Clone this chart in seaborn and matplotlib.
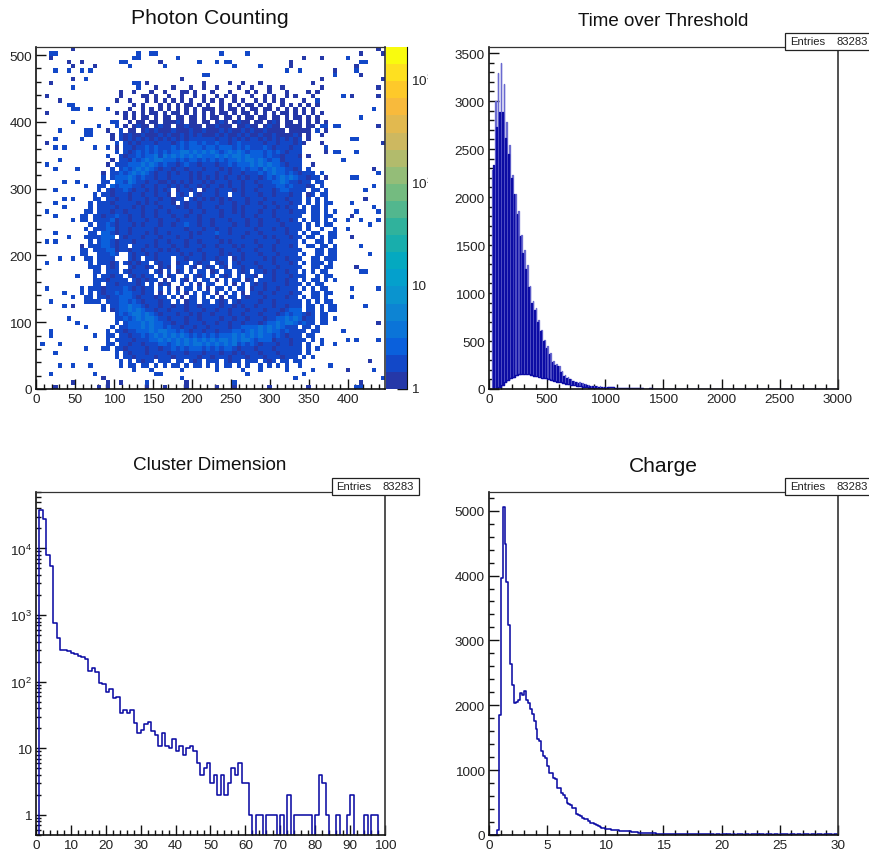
import numpy as np
import matplotlib
matplotlib.use('Agg')
import matplotlib.pyplot as plt
import seaborn as sns
from matplotlib.colors import ListedColormap, LogNorm
from matplotlib.patches import Rectangle
from matplotlib.ticker import FixedLocator, LogLocator, MultipleLocator, NullFormatter
from matplotlib.transforms import Bbox

FIG_W, FIG_H = 870, 853

# hit map, one character per 5.6 x 6.4 pixel cell, top row first ('.' = empty)
photon_rows = [
    "........1. .......... .......... .......... .......... .......... .......... ........1.",
    "...22..... .......... ...2..22.. .......... ..2.....2. .......... .......... ....1....1",
    "...1...... .......... ..22...... ..2....... .......... .......... .1...1.... .2........",
    ".......1.. 1........2 2.......1. .......2.. .2.22..... ........1. .......... ....22....",
    "........1. ...1...... .2.......2 .......... .....2.... .2......1. .......... ...1......",
    "....2..2.. 2.2....... .......... .......... .......... .......2.. 2.......1. ...2......",
    ".......... .......... .......... ........22 .......... .......... ........2. ....1.....",
    "........1. .2........ .......... ...1...... .......... .......... .....1.... .........1",
    "...1...... .......... ..22.1.... ........1. ....1..1.. .1........ ...1...... ..........",
    "........2. .......... ...2...1.. .1...1..1. .1....1..1 ...1..1... .....1.... ........1.",
    ".......... .........1 ..1...1..1 ...11.1... 1...1...1. 1..1...1.. ..1.1..... ..........",
    "..1....... .........1 ....11.1.. 1..1..1.1. .1.1.1...1 ..1.1..1.1 ...1...... 2.1.....1.",
    ".....1.... ........1. .1...1.1.1 .1.1.1..1. 1.1..1.1.. 1.1.1.1... .1..2..... ..........",
    ".......22. .......... ..1.1...1. 1.1.11.1.1 ..1.1.1.11 .1.1..1.1. 1.1.1..... ..........",
    "........22 ..2...2... .1..1.1.1. 1.1.1.1.11 1.1.11.1.1 1.11.1.1.1 .1.1...... .......2..",
    "..1....... ........1. 1.1.1.11.1 .11.1.1.1. 1.11.1.11. 1.1.1.11.1 .1.1.1.... ..........",
    ".......... .......... 1.1.11.1.1 1.11.11.1. 11.11.1.11 .11.11.1.1 1.1.1..... ....2.....",
    "........2. .......22. .1.11.11.1 1121.11.11 .121.1211. 11.121.11. 1.1.1.1... ..........",
    ".......... ....2...2. 1.1211.121 1.112111.1 12111.1121 1.1211.111 1.11.22.22 ........1.",
    ".....2.... .22...1..2 .11.121211 1211121121 1121211212 1121111.11 111.2.1... ..........",
    ".......... .22....1.2 1211211121 2112121211 1212112121 1211211112 1.1..1.... ..........",
    "....2..... 2......1.2 1212121212 1212122222 2122121212 2121212121 2.1....... ..22......",
    "..1....... ........2. 2121222122 2123233232 2322123222 2212212221 21...1.... .........1",
    "....2.2... ...2..2.1. 2212232322 2323233323 3233323232 2232122212 2.....2... ..........",
    ".......... ........2. 2123232323 2334434343 4323434323 3323232122 2.....1.22 ...2......",
    ".......... ......2..2 1223233424 3434343433 3434344343 3323221222 1.1....... ..........",
    ".....2.... .......1.2 2132343443 3323233232 3232334344 3432331222 2......... 2.........",
    "..2....... ......1.22 2333434323 2212322122 2122323334 3434332122 2..1...... ..........",
    "....2....2 .......2.2 3234343212 2122122212 2212122323 3243433221 2.2....... .......1..",
    ".......... .....1.223 2343432122 1212212122 2122122122 2323433232 1222.2.... ........2.",
    ".......... .....2.233 3432322122 1222212121 2121221212 2123234343 22122.1... ..22......",
    "......2..2 .....22.33 2432212211 2121212212 1222122122 1222334322 122.22.... ..........",
    ".......... .2..22.323 3322122122 1212122121 2212122122 2122233232 2212.2.... .......2..",
    "....2..... ....2.2122 3212212121 2.12212.12 2122212122 1222123322 22.22.2... .....2....",
    ".......... ...2.22122 2122122122 1.212.2122 2122.22122 2122122212 2.12.22... ..........",
    "......2.2. ...22.2212 2122212212 2122.21212 1212122212 2212222122 2.2.2.2... .....1....",
    "....2..... ..2.222122 2221212122 21.2122122 2212212212 2122122212 2.2.2.22.. ..2.......",
    "......2... ..2.222212 2212122212 2212122122 2122212122 2212212122 .2.22.2... .......2..",
    "..2....... .22.222122 1222122122 1222212212 2212212122 2122122212 22.22.2.2. ...2....2.",
    "....2..... 22.2212232 2122122122 2122122122 2212222122 1222122222 2..22.22.. ..1.......",
    "........2. 22.2222312 2122212212 2212222122 1222122212 2122212212 .2.22.2.2. .2..2...2.",
    ".......... ..2.223212 2212122212 2122322122 1222212212 2122221222 2.2.2.22.. ......2...",
    ".......... .2.2223312 2122222122 2222122212 2122122222 1222122122 2.2..2..2. .2........",
    "....2..... ..22.33212 2122212122 1222212122 2322122212 2122222122 .2.22..22. ..........",
    ".......2.. .2222333.2 1222122212 2212212222 2122222122 2212122212 2.22.2.22. ..1.......",
    "..2.2..... ..2.233212 2212222122 1222122122 2212122222 1222212222 .2..22.2.. ..........",
    ".......... 1.22233212 2.22212122 2122122212 2122212122 2122122212 ..22.22.2. ....2.....",
    ".......... 22.2223312 2122122212 1212222122 2212221222 1222122222 2...22.22. ..........",
    ".......... 22..22232. .212212122 2221212212 2212122122 2122212222 .2..22.22. ......2...",
    ".....2..2. .22.2222.. .212.22122 2.22122212 2122.12122 2212122122 2..22.222. ..........",
    "..2....... ..2.22212. 212122.212 2.122.2122 .212.21222 1222122212 .2.222.2.. ..........",
    ".......... ..222.212. .212212.12 1.22.21.21 2.21.22122 2122212222 2..22.22.. ...1......",
    ".......... ...22.222. 212222.21. 2.12.2.22. 12.22.212. 2212122122 .2.2.22... ....22....",
    ".........2 ...2.22122 .212122.2. 12..2.212. 2.212.2.22 1.22122212 22..2.22.. ..........",
    ".......... ...2221222 2.212122.1 .2.21.2.22 .1.2.22.12 .222122122 .2.22.2.2. ..........",
    ".......... ...22.2212 22212.2.12 1..2.2.1.2 2..2.1.2.2 1212222122 2.2.22.... ..........",
    "..2....... 2.22212222 3212122.2. 2.1.22.2.1 .22.2.22.1 2212212222 .2.2.22... ..2.....2.",
    "......2... 2.2.212232 3322122.1. 2.2.1.2.22 .1.2.2.1.2 2122122212 2..22.22.. ..........",
    "........2. .22.221223 3321222122 .2.1.22.2. 2.1.22.212 2212222122 .2.22.2... ..2.......",
    "...2...... .2222.2223 3232122212 2.2.122.22 .212.21222 2122122222 2.2.2.22.. ..........",
    "......2.1. .....2.223 3433212212 2122122122 2212212122 1222122122 2.22.2.22. .....2....",
    ".......... .....2.123 3434322122 1222122212 2122122212 2212221233 3.22.2.22. ..........",
    ".......... ........23 2344343212 2212212122 1222122122 2122212323 3212.22... ..........",
    ".......2.. ........22 3234344322 1222122122 2212212212 2212233434 3122.22.2. ..........",
    ".........2 ........2. 2333434332 2122122212 2122122122 2123343443 2322.22... ........1.",
    "..........  .2.....2. 2233343433 2322122122 1222212233 3343434322 2.22.2.... ..........",
    "...2...... ......2.22 1223334344 3323212212 2122233234 3434332322 22.22..... 2.........",
    "...2...... ...2..22.2 2122323434 3434323232 3233343434 3433232122 2.22...... ..........",
    ".......... ......2.22 2212223343 4343434343 4344343443 2333122212 22.2.2.... .2.2....2.",
    ".2...2.... ......22.2 2122122233 2343434434 3434342323 2122212212 2.2..2..2. ..........",
    ".......... .2...22.22 1222212212 2323233323 2323321222 1222122222 2.2.2..... ..........",
    "....2..... ........2. 2122212222 1222122212 2212212122 2122212222 2.2....... ..........",
    ".......... ........2. 2212222122 2122222122 1222122212 2212221222 .2.2...... ..........",
    ".......... .........2 .2.2122.22 2.22.212.2 22.2122.22 2.212.22.2 2......... ......1...",
    ".....2..2. ..2......2 .22.22.2.2 .22.2.22.2 .2.22.2.2. .2.2.2.2.. 2......2.. ..........",
    ".......... .......... ..2...2... ...2...... .2.....2.. .2.....2.. ...2...... .1.....2..",
    "...2...... ...2...... .......22. .......... ........2. .......... .2........ ..........",
    ".......... .....1.... .......... ...2...... .......... .........2 .......... .........2",
    "........1. ......1..1 .....2.... ....1..... .....2.... .......... .......... ....1.....",
    "....1..... ....1.1... .....1...1 ....1..... .1...1.... ...1...... ..1....... ...22.....",
]
photon_counts = {'.': 0, '1': 1, '2': 1.8, '3': 2.6, '4': 3.6}
photon_palette = ['#2538a8', '#1248c8', '#0a60dc', '#0b74d8', '#0d84d3', '#0a94cf',
                  '#04a0cc', '#04a9c0', '#18aeac', '#30b29c', '#52b78e', '#74bb80',
                  '#94bd78', '#b2bb6c', '#cdb860', '#e2b94f', '#f8ba3c', '#fec92a',
                  '#fee020', '#f9fb0e']

# time over threshold: the counts come in a comb, two spikes per 25 units
tot_tail = [18, 16, 15, 14, 12, 10, 10, 8, 8, 7, 7, 6, 5, 5, 6, 4, 4, 5, 3, 4, 3, 3, 4, 2, 3, 3, 2,
            2, 3, 2, 2, 1, 2, 2, 1, 2, 1, 1, 2, 1, 1, 2, 1, 1, 1, 2, 1, 1, 1, 1, 2, 1, 0, 1, 1, 1,
            0, 1, 1, 0, 1, 1, 1, 0, 1, 0, 1, 1, 0, 1, 0, 1, 0, 1, 1, 0, 1, 0, 1]
tot_high = [2277, 3000, 3295, 3400, 3180, 2780, 2540, 2225, 2035, 1856,
            1606, 1453, 1296, 1077, 921, 841, 720, 615, 514, 445,
            375, 295, 260, 243, 190, 146, 122, 104, 87, 70,
            70, 62, 50, 42, 35, 30, 30, 28, 25, 20] + tot_tail
tot_mid = [2330, 2730, 2885, 2890, 2610, 2450, 2200, 2030, 1820, 1590,
           1420, 1250, 1060, 900, 820, 700, 600, 500, 430, 360,
           285, 255, 235, 180, 140, 118, 100, 84, 68, 66,
           58, 48, 40, 33, 30, 28, 26, 24, 20, 17] + tot_tail
tot_gap = [0, 0, 20, 40, 70, 90, 110, 125, 145, 155,
           158, 160, 155, 150, 140, 132, 125, 118, 110, 104,
           95, 85, 76, 70, 62, 55, 48, 44, 38, 32,
           28, 22, 18, 12, 10, 8, 6, 5, 4, 3] + tot_tail

# cluster dimension, 1 wide bins
cluster_counts = [0, 37300, 27900, 8030, 5540, 753, 454, 299, 302, 292,
                  268, 260, 245, 233, 222, 147, 163, 138, 95, 91,
                  71, 77, 56, 59, 34, 38, 34, 38, 24, 17,
                  19, 23, 25, 18, 16, 11, 17, 11, 10, 14,
                  9, 11, 8, 10, 11, 9, 6, 4, 5, 6,
                  3, 4, 2, 4, 2, 3, 5, 4, 6, 3,
                  3, 1, 0, 1, 1, 0, 1, 1, 1, 0,
                  1, 0, 2, 0, 1, 1, 1, 1, 1, 0,
                  1, 4, 3, 1, 0, 0, 1, 0, 0, 1,
                  2, 0, 0, 0, 1, 0, 1, 1, 0, 0]

# charge, 1/6 wide bins
charge_counts = [0, 0, 0, 0, 77, 1850, 3960, 5050, 4480, 3900,
                 3230, 2630, 2320, 2035, 2055, 2080, 2190, 2160, 2225, 2080,
                 2040, 1950, 1870, 1750, 1640, 1480, 1455, 1300, 1220, 1180,
                 1065, 960, 960, 885, 860, 730, 720, 655, 620, 575,
                 500, 484, 463, 412, 410, 320, 310, 293, 263, 252,
                 240, 210, 190, 185, 170, 155, 140, 128, 113, 108,
                 98, 88, 85, 82, 77, 72, 72, 62, 66, 68,
                 66, 60, 55, 50, 45, 42, 40, 38, 36, 34,
                 32, 30, 28, 26, 25, 24, 22, 21, 20, 20,
                 18, 17, 16, 16, 15, 15, 14, 14, 13, 13,
                 12, 12, 12, 11, 11, 10, 10, 10, 12, 9,
                 9, 10, 8, 9, 8, 11, 7, 8, 9, 7,
                 8, 10, 7, 8, 9, 7, 8, 7, 9, 8,
                 10, 7, 9, 8, 7, 9, 8, 11, 8, 7,
                 9, 8, 7, 9, 10, 8, 7, 8, 9, 7,
                 8, 9, 8, 10, 7, 8, 9, 8, 7, 9,
                 8, 7, 10, 8, 9, 7, 8, 9, 7, 8,
                 9, 8, 7, 9, 8, 10, 8, 7, 9, 8]

entries_label = "Entries"
entries_value = "83283"
log_labels = ['1', '10', '$\\mathdefault{10^{2}}$', '$\\mathdefault{10^{3}}$', '$\\mathdefault{10^{4}}$']

LINE = '#0c0ca4'
LINE_LIGHT = '#6a6ad0'

sns.set_style('white')
plt.rcParams['font.family'] = ['Liberation Sans', 'DejaVu Sans']
plt.rcParams['mathtext.default'] = 'regular'

fig = plt.figure(figsize=(FIG_W / 100, FIG_H / 100), dpi=100)


def add_axes(x0, y0, x1, y1):
    return fig.add_axes([x0 / FIG_W, 1 - y1 / FIG_H, (x1 - x0) / FIG_W, (y1 - y0) / FIG_H])


def fig_text(x, y, s, **kws):
    kws.setdefault('ha', 'center')
    kws.setdefault('va', 'center')
    return fig.text(x / FIG_W, 1 - y / FIG_H, s, **kws)


def style_axes(ax):
    for name, spine in ax.spines.items():
        spine.set_visible(True)
        spine.set_color('#111111' if name in ('left', 'bottom') else '#333333')
        spine.set_linewidth(0.9 if name == 'top' else 1.2)
    ax.tick_params(which='major', direction='in', length=7.2, width=1.0, pad=3, labelsize=9.7,
                   left=True, bottom=True, top=False, right=False, color='#111111', labelcolor='#222222')
    ax.tick_params(which='minor', direction='in', length=3.6, width=1.0,
                   left=True, bottom=True, top=False, right=False, color='#111111')
    ax.set_xlabel('')
    ax.set_ylabel('')


def draw_hist(ax, edges, counts, color=LINE, lw=1.15):
    edges = np.asarray(edges, dtype=float)
    centers = (edges[:-1] + edges[1:]) / 2
    sns.histplot(x=centers, weights=counts, bins=list(edges), element='step', fill=False,
                 color=color, linewidth=lw, ax=ax)


def stats_box(x0, y0, x1, y1):
    fig.add_artist(Rectangle((x0 / FIG_W, 1 - y1 / FIG_H), (x1 - x0) / FIG_W, (y1 - y0) / FIG_H,
                             transform=fig.transFigure, facecolor='white', edgecolor='#222222',
                             linewidth=0.9, zorder=5))
    fig_text(x0 + 4.5, (y0 + y1) / 2, entries_label, ha='left', fontsize=8.1, color='#222222', zorder=6)
    fig_text(x1 - 5.5, (y0 + y1) / 2, entries_value, ha='right', fontsize=8.1, color='#222222', zorder=6)


# --- Photon Counting ---
photon_grid = np.array([[photon_counts.get(c, 0) for c in row.replace(' ', '').ljust(80, '.')[:80]]
                        for row in photon_rows])
ax1 = add_axes(36, 48, 385, 390)
cax = add_axes(386, 48, 407, 390)
sns.heatmap(photon_grid, ax=ax1, cbar_ax=cax, mask=photon_grid == 0,
            cmap=ListedColormap(photon_palette), norm=LogNorm(1, 2100),
            xticklabels=False, yticklabels=False)
ax1.set_xlim(0, 80)
ax1.set_ylim(80, 0)
ax1.set_xticks(np.arange(0, 401, 50) / 5.6)
ax1.set_xticklabels([str(v) for v in range(0, 401, 50)])
ax1.set_yticks((512 - np.arange(0, 501, 100)) / 6.4)
ax1.set_yticklabels([str(v) for v in range(0, 501, 100)], rotation=0)
ax1.xaxis.set_minor_locator(FixedLocator(np.arange(0, 441, 10) / 5.6))
ax1.yaxis.set_minor_locator(FixedLocator((512 - np.arange(0, 501, 20)) / 6.4))
style_axes(ax1)

cax.yaxis.set_ticks_position('right')
cax.set_yticks([1, 10, 100, 1000])
cax.set_yticklabels([])
cax.yaxis.set_minor_locator(LogLocator(base=10, subs=range(2, 10), numticks=12))
cax.yaxis.set_minor_formatter(NullFormatter())
cax.tick_params(which='major', direction='in', length=7.2, width=1.0, right=True, left=False, color='#111111')
cax.tick_params(which='minor', direction='in', length=3.6, width=1.0, right=True, left=False, color='#111111')
cax.spines['right'].set_visible(True)
cax.spines['right'].set_color('#111111')
for i, y in enumerate([390, 287.3, 184.3, 81.3]):
    label = fig_text(411, y, log_labels[i], ha='left', fontsize=9.7, color='#222222')
    label.set_clip_on(True)
    label.set_clip_box(Bbox([[0, 0], [428, FIG_H]]))

# --- Time over Threshold ---
ax2 = add_axes(489, 48, 838, 390)
tot_light = [0, 0, 0, 0]
tot_dark = [0, 0, 0, 0]
for high, gap, mid in zip(tot_high, tot_gap, tot_mid):
    tot_light += [high, gap, gap, gap]
    tot_dark += [gap, gap, mid, gap]
tot_edges = np.arange(len(tot_dark) + 1) * 6.25
draw_hist(ax2, tot_edges, tot_light, color=LINE_LIGHT, lw=0.95)
draw_hist(ax2, tot_edges, tot_dark, lw=0.95)
ax2.set_xlim(0, 3000)
ax2.set_ylim(0, 3563)
ax2.xaxis.set_major_locator(MultipleLocator(500))
ax2.xaxis.set_minor_locator(MultipleLocator(100))
ax2.yaxis.set_major_locator(MultipleLocator(500))
ax2.yaxis.set_minor_locator(MultipleLocator(100))
style_axes(ax2)
stats_box(785.5, 33.5, 873, 50.5)

# --- Cluster Dimension ---
ax3 = add_axes(36, 493, 385, 836)
draw_hist(ax3, np.arange(len(cluster_counts) + 1), cluster_counts)
ax3.set_yscale('log')
ax3.set_xlim(0, 100)
ax3.set_ylim(0.5, 70300)
ax3.xaxis.set_major_locator(MultipleLocator(10))
ax3.xaxis.set_minor_locator(MultipleLocator(2))
ax3.set_yticks([1, 10, 100, 1000, 10000])
ax3.set_yticklabels(log_labels)
ax3.yaxis.set_minor_locator(LogLocator(base=10, subs=range(2, 10), numticks=12))
ax3.yaxis.set_minor_formatter(NullFormatter())
style_axes(ax3)
stats_box(332, 478.5, 419, 496)

# --- Charge ---
ax4 = add_axes(489, 493, 838, 836)
draw_hist(ax4, np.arange(len(charge_counts) + 1) / 6, charge_counts)
ax4.set_xlim(0, 30)
ax4.set_ylim(0, 5288)
ax4.xaxis.set_major_locator(MultipleLocator(5))
ax4.xaxis.set_minor_locator(MultipleLocator(1))
ax4.yaxis.set_major_locator(MultipleLocator(1000))
ax4.yaxis.set_minor_locator(MultipleLocator(200))
style_axes(ax4)
stats_box(785.5, 478.5, 873, 496)

fig_text(209.5, 19, "Photon Counting", fontsize=15.2, color='#111111')
fig_text(663.5, 22, "Time over Threshold", fontsize=13.5, color='#111111')
fig_text(209.5, 466, "Cluster Dimension", fontsize=13.6, color='#111111')
fig_text(663.5, 467, "Charge", fontsize=15.1, color='#111111')

fig.savefig('out.png', dpi=100, facecolor='white')
